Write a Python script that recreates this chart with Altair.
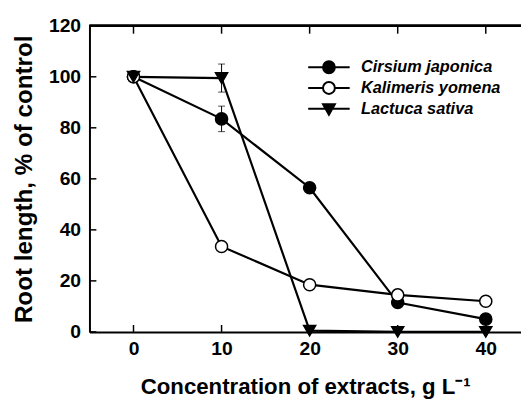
import altair as alt
import pandas as pd

# ---- data ----
conc = [0, 10, 20, 30, 40]
series_names = ["Cirsium japonica", "Kalimeris yomena", "Lactuca sativa"]
cirsium = [100.0, 83.5, 56.5, 11.5, 5.0]
kalimeris = [100.0, 33.5, 18.5, 14.5, 12.0]
lactuca = [100.0, 99.5, 0.5, 0.0, 0.0]

err_series = ["Cirsium japonica", "Lactuca sativa"]
err_conc = [10, 10]
err_lo = [78.5, 94.0]
err_hi = [88.5, 105.0]

x_ticks = [0, 10, 20, 30, 40]
y_ticks = [0, 20, 40, 60, 80, 100, 120]

# ---- tables ----
rows = []
for name, vals in zip(series_names, [cirsium, kalimeris, lactuca]):
    for c, v in zip(conc, vals):
        rows.append({"series": name, "conc": c, "value": v})
df = pd.DataFrame(rows)
err_df = pd.DataFrame({"series": err_series, "conc": err_conc, "lo": err_lo, "hi": err_hi})
xt_df = pd.DataFrame({"t": x_ticks})
yt_df = pd.DataFrame({"t": y_ticks})

W, H = 437, 310
FONT = "Liberation Sans"

xscale = alt.Scale(domain=[-5, 44], nice=False, zero=False)
yscale = alt.Scale(domain=[0, 120], nice=False, zero=False)

x_axis = alt.Axis(values=x_ticks, ticks=False, grid=False, domainColor="black",
                  domainWidth=2, labelFontSize=19.5, labelFontWeight="bold",
                  labelFont=FONT, labelColor="black", labelPadding=8,
                  title="Concentration of extracts, g L\u207b\u00b9",
                  titleFontSize=22.5, titleFont=FONT, titleFontWeight="bold",
                  titleColor="black", titlePadding=18)
y_axis = alt.Axis(values=y_ticks, ticks=False, grid=False, domainColor="black",
                  domainWidth=2, labelFontSize=19.5, labelFontWeight="bold",
                  labelFont=FONT, labelColor="black", labelPadding=9,
                  title="Root length, % of control", titleFontSize=24.5,
                  titleFont=FONT, titleFontWeight="bold", titleColor="black",
                  titlePadding=12)

base = alt.Chart(df)

lines = base.mark_line(color="black", strokeWidth=2.2).encode(
    x=alt.X("conc:Q", scale=xscale, axis=x_axis),
    y=alt.Y("value:Q", scale=yscale, axis=y_axis),
    detail="series:N",
)

err_rules = alt.Chart(err_df).mark_rule(color="black", strokeWidth=1).encode(
    x="conc:Q", y="lo:Q", y2="hi:Q"
)
err_caps = alt.Chart(err_df).transform_fold(["lo", "hi"], as_=["k", "v"]).mark_tick(
    color="black", size=7, thickness=1, orient="horizontal"
).encode(x="conc:Q", y="v:Q")

points = base.mark_point(filled=True, stroke="black", strokeWidth=1.5, size=150,
                         opacity=1).encode(
    x="conc:Q",
    y="value:Q",
    shape=alt.Shape("series:N", scale=alt.Scale(domain=series_names,
                    range=["circle", "circle", "triangle-down"]), legend=None),
    fill=alt.Fill("series:N", scale=alt.Scale(domain=series_names,
                  range=["black", "white", "black"]), legend=None),
)

# legend symbols: line + marker
k = 0.3314
circ = (f"M-0.6,0C-0.6,-{k},-{k},-0.6,0,-0.6C{k},-0.6,0.6,-{k},0.6,0"
        f"C0.6,{k},{k},0.6,0,0.6C-{k},0.6,-0.6,{k},-0.6,0Z")
p_filled = "M-2.1,0L2.1,0" + circ
p_open = "M-2.1,0L-0.6,0M0.6,0L2.1,0" + circ
p_tri = "M-2.1,0L2.1,0M-0.6,-0.45L0.6,-0.45L0,0.6Z"

leg = dict(title=None, orient="none", legendX=231.5, legendY=31)

legend_layer = base.transform_filter("false").mark_point(
    filled=True, strokeWidth=2, size=400, opacity=1
).encode(
    x="conc:Q",
    y="value:Q",
    shape=alt.Shape("series:N", scale=alt.Scale(domain=series_names,
                    range=[p_filled, p_open, p_tri]),
                    legend=alt.Legend(**leg, symbolSize=400,
                                      symbolStrokeWidth=2, symbolOpacity=1,
                                      labelOffset=21.5, labelFont=FONT,
                                      labelFontSize=16.5, labelFontWeight="bold",
                                      labelFontStyle="italic", labelColor="black",
                                      rowPadding=0, padding=0)),
    fill=alt.Fill("series:N", scale=alt.Scale(domain=series_names,
                  range=["black", "white", "black"]), legend=alt.Legend(**leg)),
    stroke=alt.Stroke("series:N", scale=alt.Scale(domain=series_names,
                      range=["black", "black", "black"]), legend=alt.Legend(**leg)),
)

# frame: top line and inward ticks
top_line = alt.Chart(xt_df).mark_rule(color="black", strokeWidth=2).encode(
    x=alt.value(0), x2=alt.value(W), y=alt.value(0)
)
top_ticks = alt.Chart(xt_df).mark_rule(color="black", strokeWidth=1.5).encode(
    x="t:Q", y=alt.value(0), y2=alt.value(8)
)
bottom_ticks = alt.Chart(xt_df).mark_rule(color="black", strokeWidth=1.5).encode(
    x="t:Q", y=alt.value(H - 7), y2=alt.value(H)
)
left_ticks = alt.Chart(yt_df).mark_rule(color="black", strokeWidth=1.5).encode(
    y="t:Q", x=alt.value(0), x2=alt.value(7)
)

chart = alt.layer(
    lines, err_rules, err_caps, points, legend_layer,
    top_line, top_ticks, bottom_ticks, left_ticks
).resolve_scale(shape="independent", fill="independent",
                stroke="independent").properties(
    width=W, height=H,
    autosize=alt.AutoSizeParams(type="none"),
    padding={"left": 82.5, "top": 15.5, "right": 0, "bottom": 69},
    background="white",
).configure_view(stroke=None)

chart.save("out.html", embed_options={"renderer": "svg", "actions": False})
